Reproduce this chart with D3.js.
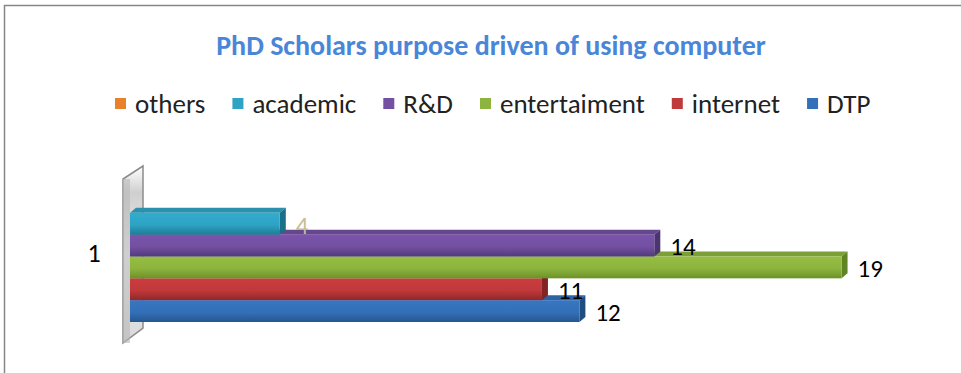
<!DOCTYPE html>
<html><head><meta charset="utf-8">
<script src="https://cdn.jsdelivr.net/npm/d3@7"></script>
<style>
html,body{margin:0;padding:0;background:#fff;}
svg{display:block;}
</style></head>
<body><svg id="c" width="961" height="373"></svg>
<script>
const title = "PhD Scholars purpose driven of using computer";
const categories = ["1"];
const seriesNames = ["others","academic","R&D","entertaiment","internet","DTP"]; // legend order, top to bottom
const seriesValues = [null, 4, 14, 19, 11, 12];
const seriesColors = ["#e8812b","#2ea3c4","#7350a2","#8db43e","#c0393b","#3470b8"];
const seriesDark   = ["#b8601a","#1d7d98","#523a7e","#6b9228","#912729","#24568f"];
const labelColors  = ["#000","#c4bd97","#000","#000","#000","#000"];

const svg = d3.select("#c");
const FONT = "Carlito, Calibri, Lato, 'Open Sans', sans-serif";
const defs = svg.append("defs");

// outer border
svg.append("rect").attr("x",4.5).attr("y",5.5).attr("width",980).attr("height",400)
  .attr("fill","#fff").attr("stroke","#868686").attr("stroke-width",1.5);

// title
svg.append("text").attr("x",491).attr("y",55).attr("text-anchor","middle")
  .attr("font-family",FONT).attr("font-weight","bold").attr("font-size",28)
  .attr("fill","#4a86d8").text(title);

// legend
const lg = svg.append("g").attr("transform","translate(115,104)");
let lx = 0;
seriesNames.forEach((n,i)=>{
  const g = lg.append("g").attr("transform",`translate(${lx},0)`);
  g.append("rect").attr("x",0).attr("y",-6).attr("width",11).attr("height",11).attr("fill",seriesColors[i]);
  const t = g.append("text").attr("x",20).attr("y",0).attr("dy","0.35em")
    .attr("font-family",FONT).attr("font-size",27).attr("fill","#222").text(n);
  lx += 20 + t.node().getComputedTextLength() + 27;
});

// scales
const x = d3.scaleLinear().domain([0,20]).range([130, 130 + 37.45*20]);
const yCat = d3.scaleBand().domain(categories).range([166, 343]);
const y = d3.scaleBand().domain(seriesNames).range([191, 322]);
const DX = 6, DY = -5;

// wall
const wg = defs.append("linearGradient").attr("id","wallg").attr("x1","0").attr("y1","0").attr("x2","0").attr("y2","1");
wg.append("stop").attr("offset","0").attr("stop-color","#ffffff");
wg.append("stop").attr("offset","0.15").attr("stop-color","#cfcfcf");
wg.append("stop").attr("offset","0.5").attr("stop-color","#f2f2f2");
wg.append("stop").attr("offset","1").attr("stop-color","#d8d8d8");
const wx0 = x(0) - 7, wTop = yCat.range()[0], wBot = yCat.range()[1];
svg.append("path")
  .attr("d",`M${wx0},${wTop+13}L${wx0+20},${wTop}L${wx0+20},${wBot-15}L${wx0},${wBot}Z`)
  .attr("fill","url(#wallg)").attr("stroke","#8c8c8c").attr("stroke-width",1.5);
svg.append("rect").attr("x",wx0).attr("y",wTop+13).attr("width",7).attr("height",wBot-wTop-13)
  .attr("fill","#b8b8b8").attr("opacity",0.6);

// category label
svg.append("text").attr("x",94).attr("y",yCat("1")+yCat.bandwidth()/2-2).attr("dy","0.35em")
  .attr("text-anchor","middle").attr("font-family",FONT).attr("font-size",26).attr("fill","#000").text(categories[0]);

// bar gradients
seriesNames.forEach((n,i)=>{
  const g = defs.append("linearGradient").attr("id","bg"+i).attr("x1","0").attr("y1","0").attr("x2","0").attr("y2","1");
  g.append("stop").attr("offset","0").attr("stop-color",d3.color(seriesColors[i]).brighter(0.15));
  g.append("stop").attr("offset","0.55").attr("stop-color",seriesColors[i]);
  g.append("stop").attr("offset","1").attr("stop-color",seriesDark[i]);
});

// bars, drawn bottom to top
const order = d3.range(seriesNames.length).reverse();
const bars = svg.append("g");
order.forEach(i=>{
  const v = seriesValues[i];
  if (v == null) return;
  const n = seriesNames[i];
  const x0 = x(0), x1 = x(v), y0 = y(n), h = y.bandwidth();
  const g = bars.append("g");
  g.append("path").attr("d",`M${x0},${y0}L${x0+DX},${y0+DY}L${x1+DX},${y0+DY}L${x1},${y0}Z`)
    .attr("fill",d3.color(seriesColors[i]).darker(0.35));
  g.append("path").attr("d",`M${x1},${y0}L${x1+DX},${y0+DY}L${x1+DX},${y0+h+DY}L${x1},${y0+h}Z`)
    .attr("fill",d3.color(seriesDark[i]).darker(0.3));
  g.append("rect").attr("x",x0).attr("y",y0).attr("width",x1-x0).attr("height",h)
    .attr("fill",`url(#bg${i})`);
});

// labels
const labels = svg.append("g");
seriesNames.forEach((n,i)=>{
  const v = seriesValues[i];
  if (v == null) return;
  labels.append("text").attr("x",x(v)+16).attr("y",y(n)+y.bandwidth()/2+1).attr("dy","0.35em")
    .attr("font-family",FONT).attr("font-size",25).attr("fill",labelColors[i]).text(v);
});
</script></body></html>
